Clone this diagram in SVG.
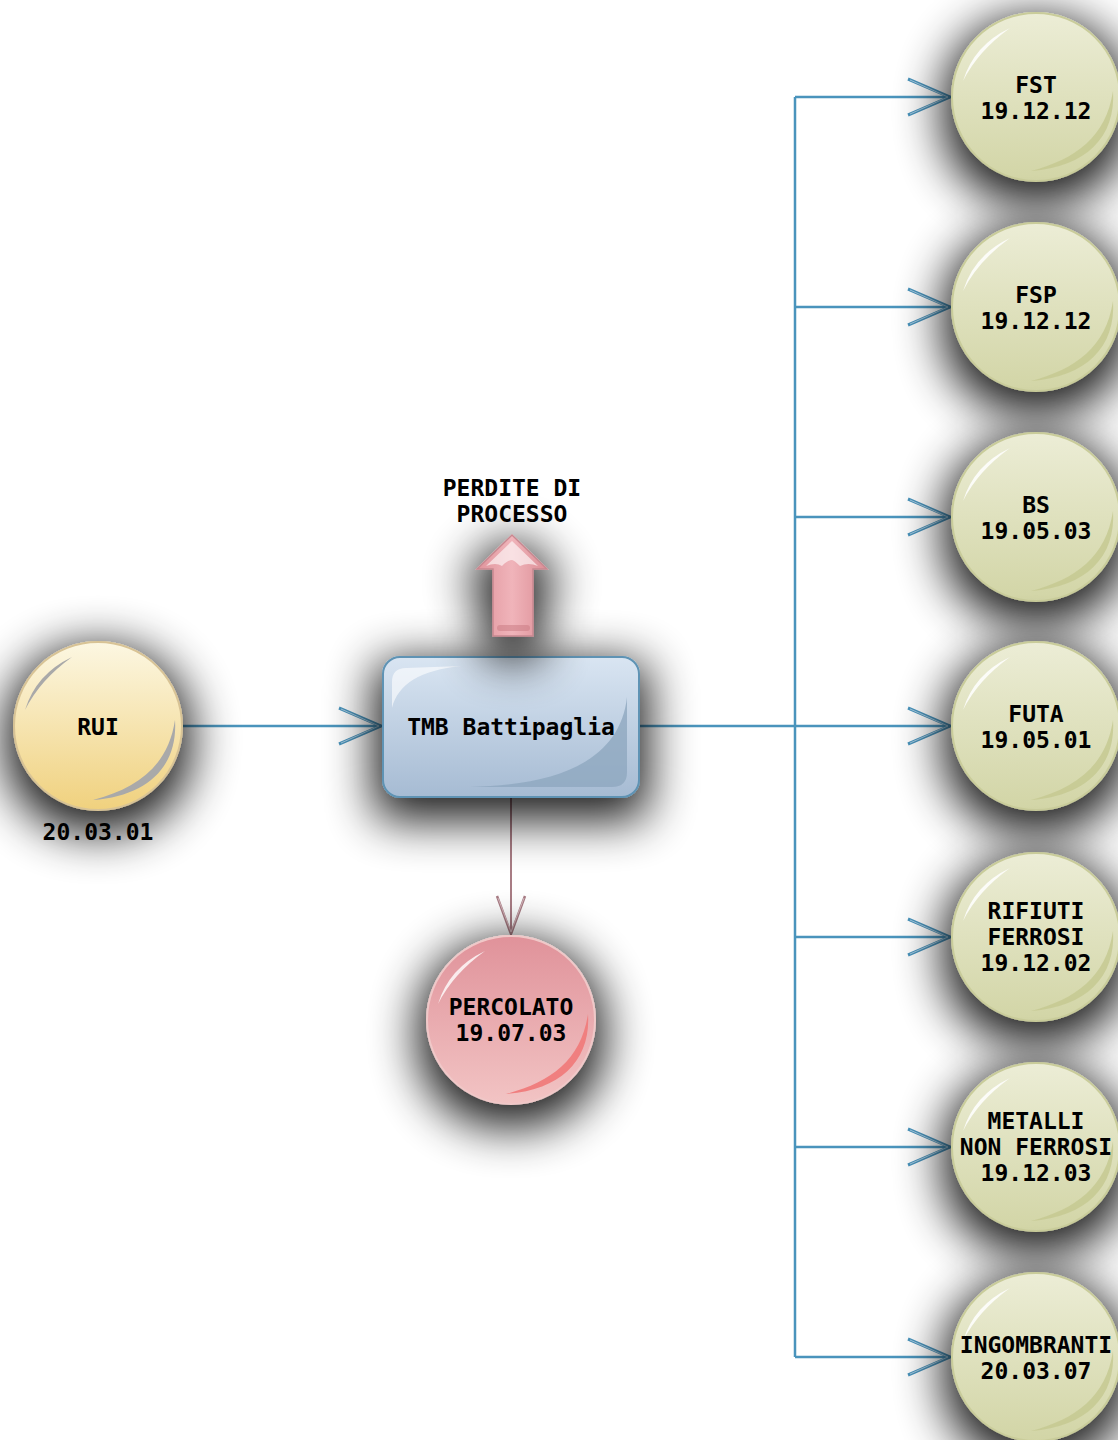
<svg xmlns="http://www.w3.org/2000/svg" width="1118" height="1440" viewBox="0 0 1118 1440">
<style>
.t{font-family:"DejaVu Sans Mono","Liberation Mono",monospace;font-weight:bold;font-size:23px;fill:#000;text-anchor:middle}
.c{fill:none;stroke:#4a94bc;stroke-width:2.5}
.gc{fill:url(#gG);stroke:#c9cc9a;stroke-width:2}
.gh{fill:#c4c890;opacity:0.8}
.wh{fill:#ffffff;opacity:0.85}
</style>
<defs>
<filter id="sh" x="-80%" y="-80%" width="260%" height="260%">
<feMorphology in="SourceAlpha" operator="dilate" radius="8"/>
<feGaussianBlur stdDeviation="24"/>
<feOffset dx="0" dy="14" result="b"/>
<feComponentTransfer><feFuncA type="linear" slope="0.9"/></feComponentTransfer>
<feMerge><feMergeNode/><feMergeNode in="SourceGraphic"/></feMerge>
</filter>
<linearGradient id="gG" x1="0" y1="0" x2="0" y2="1"><stop offset="0" stop-color="#ecedd6"/><stop offset="1" stop-color="#d2d5a6"/></linearGradient>
<linearGradient id="gY" x1="0" y1="0" x2="0" y2="1"><stop offset="0" stop-color="#fcf7e2"/><stop offset="1" stop-color="#f0d17e"/></linearGradient>
<linearGradient id="gR" x1="0" y1="0" x2="0" y2="1"><stop offset="0" stop-color="#e0929a"/><stop offset="1" stop-color="#f2c4c4"/></linearGradient>
<linearGradient id="gB" x1="0" y1="0" x2="0" y2="1"><stop offset="0" stop-color="#d9e5f2"/><stop offset="1" stop-color="#a6bbd3"/></linearGradient>
<linearGradient id="gA" x1="0" y1="0" x2="1" y2="0"><stop offset="0" stop-color="#e0949c"/><stop offset="0.5" stop-color="#f0b4ba"/><stop offset="1" stop-color="#dc8e96"/></linearGradient>
<marker id="ah" viewBox="-46 -22 50 44" refX="0" refY="0" markerWidth="50" markerHeight="44" markerUnits="userSpaceOnUse" orient="auto">
<path d="M-42,-18 L0,0 L-42,18" fill="none" stroke="#4a94bc" stroke-width="3"/>
<path d="M-40,-17 L-2,0 L-40,17" fill="none" stroke="#bcd8ea" stroke-width="0.8"/>
</marker>
<marker id="ahr" viewBox="-46 -22 50 44" refX="0" refY="0" markerWidth="50" markerHeight="44" markerUnits="userSpaceOnUse" orient="auto">
<path d="M-38,-14 L0,0 L-38,14" fill="none" stroke="#a87c84" stroke-width="2.5"/>
<path d="M-36,-13 L-2,0 L-36,13" fill="none" stroke="#e8d0d4" stroke-width="0.7"/>
</marker>
</defs>
<rect width="1118" height="1440" fill="#ffffff"/>

<g id="connectors">
<path class="c" d="M183,726 L381,726" marker-end="url(#ah)"/>
<path class="c" d="M639,726 L795,726"/>
<path class="c" d="M795,97 L795,1357"/>
<path class="c" d="M795,97 L950,97" marker-end="url(#ah)"/>
<path class="c" d="M795,307 L950,307" marker-end="url(#ah)"/>
<path class="c" d="M795,517 L950,517" marker-end="url(#ah)"/>
<path class="c" d="M795,726 L950,726" marker-end="url(#ah)"/>
<path class="c" d="M795,937 L950,937" marker-end="url(#ah)"/>
<path class="c" d="M795,1147 L950,1147" marker-end="url(#ah)"/>
<path class="c" d="M795,1357 L950,1357" marker-end="url(#ah)"/>
<path d="M511,797 L511,934" fill="none" stroke="#a87c84" stroke-width="2" marker-end="url(#ahr)"/>
</g>

<g id="rui">
<g filter="url(#sh)"><circle cx="98" cy="726" r="84" fill="url(#gY)" stroke="#d8c395" stroke-width="2"/></g>
<g transform="translate(98,726)">
<path d="M-73,-16 Q-62,-52 -26,-69 Q-58,-46 -73,-16 Z" fill="#a9a9a9"/>
<path d="M77,-6 C80,40 50,70 -5,74 C40,62 70,40 77,-6 Z" fill="#a9a9a9"/>
</g>
<text class="t" x="98" y="735">RUI</text>
<text class="t" x="98" y="840">20.03.01</text>
</g>

<g id="tmb">
<g filter="url(#sh)"><rect x="383" y="657" width="256" height="140" rx="17" fill="url(#gB)" stroke="#5e93b4" stroke-width="2"/></g>
<path d="M392,708 L392,682 Q392,668 406,668 L462,666 C420,670 398,684 392,708 Z" fill="#ffffff" opacity="0.6"/>
<path d="M627,697 C620,760 560,785 470,787 L612,787 Q627,787 627,772 Z" fill="#8ea7bf" opacity="0.8"/>
<text class="t" x="511" y="735">TMB Battipaglia</text>
</g>

<g id="perdite">
<g filter="url(#sh)"><path d="M512,535 L547,569 L533,569 L533,636 L493,636 L493,569 L477,569 Z" fill="url(#gA)" stroke="#c88890" stroke-width="1.5"/></g>
<path d="M512,541 L538,566 Q528,562 520,566 Q514,560 512,560 Q508,560 502,566 Q496,562 486,566 Z" fill="#ffffff" opacity="0.6"/>
<rect x="497" y="625" width="33" height="6" rx="3" fill="#c87880" opacity="0.5"/>
<text class="t" x="512" y="496">PERDITE DI</text>
<text class="t" x="512" y="522">PROCESSO</text>
</g>

<g id="percolato">
<g filter="url(#sh)"><circle cx="511" cy="1020" r="84" fill="url(#gR)" stroke="#f0c8c8" stroke-width="2"/></g>
<g transform="translate(511,1020)">
<path d="M-73,-16 Q-62,-52 -26,-69 Q-58,-46 -73,-16 Z" fill="#ffffff" opacity="0.8"/>
<path d="M77,-6 C80,40 50,70 -5,74 C40,62 70,40 77,-6 Z" fill="#f07f7f"/>
</g>
<text class="t" x="511" y="1015">PERCOLATO</text>
<text class="t" x="511" y="1041">19.07.03</text>
</g>

<g id="fst">
<g filter="url(#sh)"><circle class="gc" cx="1036" cy="97" r="84"/></g>
<g transform="translate(1036,97)"><path class="wh" d="M-73,-16 Q-62,-52 -26,-69 Q-58,-46 -73,-16 Z"/><path class="gh" d="M77,-6 C80,40 50,70 -5,74 C40,62 70,40 77,-6 Z"/></g>
<text class="t" x="1036" y="93">FST</text>
<text class="t" x="1036" y="119">19.12.12</text>
</g>

<g id="fsp">
<g filter="url(#sh)"><circle class="gc" cx="1036" cy="307" r="84"/></g>
<g transform="translate(1036,307)"><path class="wh" d="M-73,-16 Q-62,-52 -26,-69 Q-58,-46 -73,-16 Z"/><path class="gh" d="M77,-6 C80,40 50,70 -5,74 C40,62 70,40 77,-6 Z"/></g>
<text class="t" x="1036" y="303">FSP</text>
<text class="t" x="1036" y="329">19.12.12</text>
</g>

<g id="bs">
<g filter="url(#sh)"><circle class="gc" cx="1036" cy="517" r="84"/></g>
<g transform="translate(1036,517)"><path class="wh" d="M-73,-16 Q-62,-52 -26,-69 Q-58,-46 -73,-16 Z"/><path class="gh" d="M77,-6 C80,40 50,70 -5,74 C40,62 70,40 77,-6 Z"/></g>
<text class="t" x="1036" y="513">BS</text>
<text class="t" x="1036" y="539">19.05.03</text>
</g>

<g id="futa">
<g filter="url(#sh)"><circle class="gc" cx="1036" cy="726" r="84"/></g>
<g transform="translate(1036,726)"><path class="wh" d="M-73,-16 Q-62,-52 -26,-69 Q-58,-46 -73,-16 Z"/><path class="gh" d="M77,-6 C80,40 50,70 -5,74 C40,62 70,40 77,-6 Z"/></g>
<text class="t" x="1036" y="722">FUTA</text>
<text class="t" x="1036" y="748">19.05.01</text>
</g>

<g id="rifiuti">
<g filter="url(#sh)"><circle class="gc" cx="1036" cy="937" r="84"/></g>
<g transform="translate(1036,937)"><path class="wh" d="M-73,-16 Q-62,-52 -26,-69 Q-58,-46 -73,-16 Z"/><path class="gh" d="M77,-6 C80,40 50,70 -5,74 C40,62 70,40 77,-6 Z"/></g>
<text class="t" x="1036" y="919">RIFIUTI</text>
<text class="t" x="1036" y="945">FERROSI</text>
<text class="t" x="1036" y="971">19.12.02</text>
</g>

<g id="metalli">
<g filter="url(#sh)"><circle class="gc" cx="1036" cy="1147" r="84"/></g>
<g transform="translate(1036,1147)"><path class="wh" d="M-73,-16 Q-62,-52 -26,-69 Q-58,-46 -73,-16 Z"/><path class="gh" d="M77,-6 C80,40 50,70 -5,74 C40,62 70,40 77,-6 Z"/></g>
<text class="t" x="1036" y="1129">METALLI</text>
<text class="t" x="1036" y="1155">NON FERROSI</text>
<text class="t" x="1036" y="1181">19.12.03</text>
</g>

<g id="ingombranti">
<g filter="url(#sh)"><circle class="gc" cx="1036" cy="1357" r="84"/></g>
<g transform="translate(1036,1357)"><path class="wh" d="M-73,-16 Q-62,-52 -26,-69 Q-58,-46 -73,-16 Z"/><path class="gh" d="M77,-6 C80,40 50,70 -5,74 C40,62 70,40 77,-6 Z"/></g>
<text class="t" x="1036" y="1353">INGOMBRANTI</text>
<text class="t" x="1036" y="1379">20.03.07</text>
</g>
</svg>
